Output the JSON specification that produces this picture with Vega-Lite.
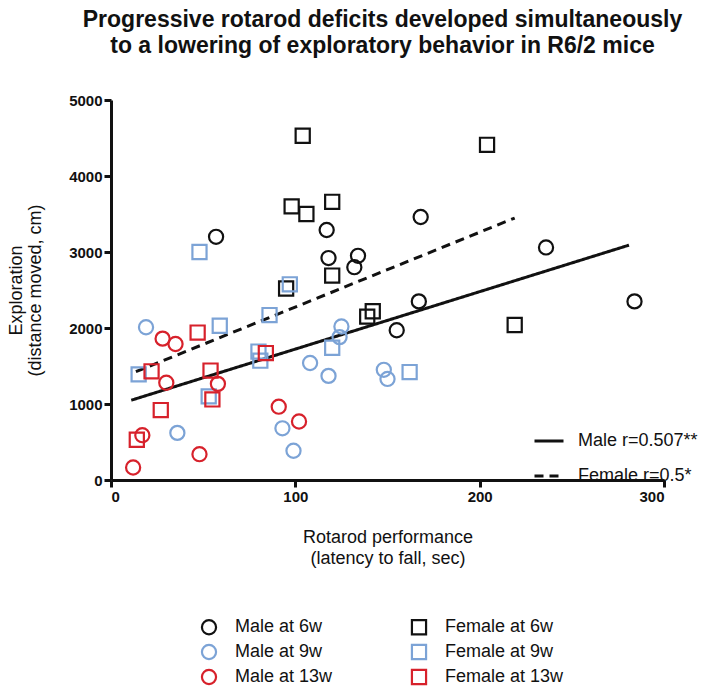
{
  "$schema": "https://vega.github.io/schema/vega-lite/v6.json",
  "width": 553,
  "height": 380,
  "autosize": {"type": "none"},
  "padding": {"left": 111, "top": 100, "right": 54, "bottom": 207},
  "background": "white",
  "title": {
    "text": ["Progressive rotarod deficits developed simultaneously", "to a lowering of exploratory behavior in R6/2 mice"],
    "font": "Liberation Sans",
    "fontSize": 23,
    "fontWeight": "bold",
    "lineHeight": 26,
    "offset": 35,
    "anchor": "middle",
    "dx": -5,
    "color": "#111111"
  },
  "config": {
    "view": {"stroke": null},
    "axis": {
      "grid": false,
      "domainColor": "#111111",
      "domainWidth": 3,
      "tickColor": "#111111",
      "tickWidth": 3,
      "tickSize": 7,
      "labelFont": "Liberation Sans",
      "labelFontSize": 15,
      "labelFontWeight": "bold",
      "labelColor": "#111111",
      "labelPadding": 2,
      "titleFont": "Liberation Sans",
      "titleFontSize": 18,
      "titleFontWeight": "normal",
      "titleColor": "#111111",
      "titleLineHeight": 21
    },
    "legend": {
      "labelFont": "Liberation Sans",
      "labelFontSize": 18,
      "labelColor": "#111111"
    }
  },
  "layer": [
    {
      "data": {
        "values": [
          {"series": "Male r=0.507**", "x": 11, "y": 1050},
          {"series": "Male r=0.507**", "x": 281, "y": 3090},
          {"series": "Female r=0.5*", "x": 13.5, "y": 1425},
          {"series": "Female r=0.5*", "x": 219, "y": 3447}
        ]
      },
      "mark": {"type": "line", "color": "#111111", "strokeWidth": 3},
      "encoding": {
        "x": {"field": "x", "type": "quantitative", "scale": {"domain": [0, 300], "nice": false},
              "axis": {"values": [0, 100, 200, 300], "format": "d", "title": ["Rotarod performance", "(latency to fall, sec)"], "titlePadding": 24}},
        "y": {"field": "y", "type": "quantitative", "scale": {"domain": [0, 5000], "nice": false},
              "axis": {"values": [0, 1000, 2000, 3000, 4000, 5000], "format": "d", "title": ["Exploration", "(distance moved, cm)"], "titlePadding": 24, "titleLineHeight": 19}},
        "strokeDash": {
          "field": "series", "type": "nominal",
          "scale": {"domain": ["Male r=0.507**", "Female r=0.5*"], "range": [[1, 0], [9, 6]]},
          "legend": {
            "title": null,
            "orient": "none",
            "legendX": 422,
            "legendY": 325,
            "symbolType": "stroke",
            "symbolSize": 841,
            "symbolStrokeWidth": 3,
            "symbolStrokeColor": "#111111",
            "labelOffset": 13,
            "rowPadding": 10
          }
        }
      }
    },
    {
      "data": {
        "values": [
          {"group": "Male at 6w", "x": 57, "y": 3200},
          {"group": "Male at 6w", "x": 117, "y": 3290},
          {"group": "Male at 6w", "x": 118, "y": 2920},
          {"group": "Male at 6w", "x": 134, "y": 2950},
          {"group": "Male at 6w", "x": 132, "y": 2800},
          {"group": "Male at 6w", "x": 168, "y": 3460},
          {"group": "Male at 6w", "x": 167, "y": 2350},
          {"group": "Male at 6w", "x": 155, "y": 1970},
          {"group": "Male at 6w", "x": 236, "y": 3060},
          {"group": "Male at 6w", "x": 284, "y": 2350},
          {"group": "Female at 6w", "x": 104, "y": 4530},
          {"group": "Female at 6w", "x": 204, "y": 4410},
          {"group": "Female at 6w", "x": 98, "y": 3600},
          {"group": "Female at 6w", "x": 106, "y": 3500},
          {"group": "Female at 6w", "x": 120, "y": 3660},
          {"group": "Female at 6w", "x": 120, "y": 2690},
          {"group": "Female at 6w", "x": 95, "y": 2520},
          {"group": "Female at 6w", "x": 142, "y": 2220},
          {"group": "Female at 6w", "x": 139, "y": 2150},
          {"group": "Female at 6w", "x": 219, "y": 2040},
          {"group": "Male at 9w", "x": 19, "y": 2010},
          {"group": "Male at 9w", "x": 36, "y": 620},
          {"group": "Male at 9w", "x": 93, "y": 680},
          {"group": "Male at 9w", "x": 99, "y": 385},
          {"group": "Male at 9w", "x": 108, "y": 1540},
          {"group": "Male at 9w", "x": 118, "y": 1370},
          {"group": "Male at 9w", "x": 124, "y": 1880},
          {"group": "Male at 9w", "x": 125, "y": 2020},
          {"group": "Male at 9w", "x": 148, "y": 1450},
          {"group": "Male at 9w", "x": 150, "y": 1330},
          {"group": "Female at 9w", "x": 15, "y": 1390},
          {"group": "Female at 9w", "x": 48, "y": 3000},
          {"group": "Female at 9w", "x": 53, "y": 1100},
          {"group": "Female at 9w", "x": 59, "y": 2030},
          {"group": "Female at 9w", "x": 80, "y": 1690},
          {"group": "Female at 9w", "x": 81, "y": 1570},
          {"group": "Female at 9w", "x": 86, "y": 2170},
          {"group": "Female at 9w", "x": 97, "y": 2575},
          {"group": "Female at 9w", "x": 120, "y": 1740},
          {"group": "Female at 9w", "x": 162, "y": 1420},
          {"group": "Male at 13w", "x": 12, "y": 165},
          {"group": "Male at 13w", "x": 17, "y": 590},
          {"group": "Male at 13w", "x": 28, "y": 1860},
          {"group": "Male at 13w", "x": 30, "y": 1280},
          {"group": "Male at 13w", "x": 35, "y": 1790},
          {"group": "Male at 13w", "x": 48, "y": 340},
          {"group": "Male at 13w", "x": 58, "y": 1265},
          {"group": "Male at 13w", "x": 91, "y": 965},
          {"group": "Male at 13w", "x": 102, "y": 770},
          {"group": "Female at 13w", "x": 14, "y": 530},
          {"group": "Female at 13w", "x": 22, "y": 1430},
          {"group": "Female at 13w", "x": 27, "y": 920},
          {"group": "Female at 13w", "x": 47, "y": 1940},
          {"group": "Female at 13w", "x": 54, "y": 1440},
          {"group": "Female at 13w", "x": 55, "y": 1060},
          {"group": "Female at 13w", "x": 84, "y": 1670}
        ]
      },
      "mark": {"type": "point", "filled": false, "strokeWidth": 2.2, "size": 200, "opacity": 1},
      "encoding": {
        "x": {"field": "x", "type": "quantitative"},
        "y": {"field": "y", "type": "quantitative"},
        "color": {
          "field": "group", "type": "nominal",
          "scale": {
            "domain": ["Male at 6w", "Male at 9w", "Male at 13w", "Female at 6w", "Female at 9w", "Female at 13w"],
            "range": ["#111111", "#7ca3d6", "#d7212b", "#111111", "#7ca3d6", "#d7212b"]
          },
          "legend": {
            "title": null,
            "orient": "none",
            "legendX": 89,
            "legendY": 518,
            "columns": 2,
            "columnPadding": 74,
            "rowPadding": 1,
            "labelOffset": 17,
            "symbolStrokeWidth": 2.2,
            "symbolSize": 200
          }
        },
        "shape": {
          "field": "group", "type": "nominal",
          "scale": {
            "domain": ["Male at 6w", "Male at 9w", "Male at 13w", "Female at 6w", "Female at 9w", "Female at 13w"],
            "range": ["circle", "circle", "circle", "square", "square", "square"]
          }
        }
      }
    }
  ]
}
